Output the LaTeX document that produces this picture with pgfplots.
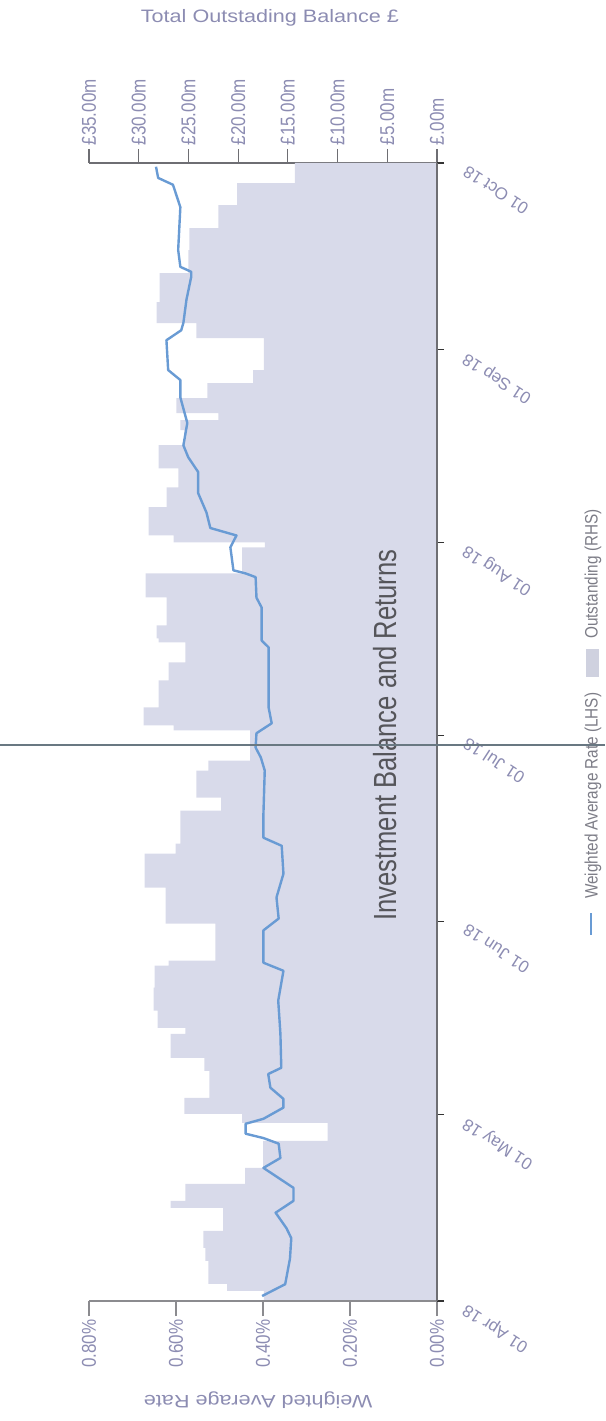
\documentclass[border=0pt]{standalone}
\usepackage{fontspec}
\setmainfont{Liberation Sans}
\newfontfamily\vfont[FakeStretch=0.85]{Liberation Sans}
\newfontfamily\hfont[FakeStretch=1.2]{Liberation Sans}
\newfontfamily\tfont[FakeStretch=0.8]{Liberation Sans}
\usepackage{pgfplots}
\usepackage{pgfplotstable}
\pgfplotsset{compat=1.18}
\definecolor{fillc}{RGB}{216,218,234}
\definecolor{linec}{RGB}{105,155,212}
\definecolor{labc}{RGB}{140,140,178}
\definecolor{axc}{RGB}{110,110,115}
\definecolor{scanc}{RGB}{105,120,130}
\definecolor{titc}{RGB}{85,85,90}
\definecolor{legc}{RGB}{125,125,135}

% day = days since 01 Apr 18 (end of each step), bal = outstanding balance in GBP m
\pgfplotstableread{
day bal
0 0
1.61 17.4
2.74 21.1
6.44 23.0
8.53 23.3
11.27 23.5
14.97 21.5
16.10 26.8
18.83 25.3
21.41 19.3
25.75 17.5
28.65 11.0
30.10 19.6
32.67 25.4
37.02 22.9
39.11 23.4
42.97 26.8
43.94 25.3
46.68 28.1
50.38 28.5
53.92 28.4
54.72 27.0
60.68 22.3
66.47 27.3
71.95 29.4
73.55 26.3
78.87 25.8
80.96 21.7
85.30 24.2
86.91 23.0
91.74 18.8
92.55 26.5
95.45 29.5
99.79 28.0
102.69 27.0
105.91 25.3
106.55 28.0
108.64 28.2
113.15 27.2
117.01 29.3
121.20 19.6
122.00 17.3
123.13 26.5
127.64 29.0
130.85 27.2
133.91 26.0
137.62 28.0
140.03 25.4
141.64 25.8
142.77 22.0
145.18 26.2
147.59 23.1
149.69 18.5
154.84 17.4
157.25 24.2
160.63 28.2
165.30 27.9
169.00 25.0
172.54 24.9
176.24 22.0
179.78 20.1
183.00 14.3
183.00 0
}\balance

% weighted average rate in percent
\pgfplotstableread{
day rate
0.8 0.402
2.7 0.349
6.8 0.338
10.1 0.335
11.7 0.346
14.2 0.371
16.1 0.330
18.2 0.330
21.4 0.399
23.0 0.360
25.3 0.364
26.2 0.399
26.9 0.440
28.5 0.440
29.3 0.399
31.1 0.353
32.5 0.353
34.3 0.383
36.5 0.388
37.5 0.358
43.0 0.360
48.3 0.365
53.1 0.353
54.4 0.399
59.6 0.399
61.5 0.364
64.9 0.369
68.7 0.353
73.2 0.357
74.5 0.399
78.4 0.399
85.3 0.396
87.4 0.405
89.0 0.417
91.3 0.415
92.9 0.380
95.4 0.387
105.1 0.387
106.2 0.403
111.5 0.403
113.1 0.415
116.4 0.417
117.0 0.440
117.5 0.468
121.2 0.475
123.1 0.461
124.3 0.521
126.8 0.530
129.9 0.549
133.3 0.549
135.7 0.572
137.6 0.583
141.2 0.574
145.3 0.590
148.1 0.590
149.7 0.618
154.5 0.622
156.1 0.588
157.3 0.583
161.0 0.576
164.7 0.565
165.5 0.565
166.3 0.590
169.0 0.595
175.9 0.590
179.5 0.607
180.6 0.641
182.4 0.646
}\rate

\begin{document}
\begin{tikzpicture}[x=1pt,y=1pt]
\useasboundingbox (0,0) rectangle (605,1421);
\pgfplotsset{base/.style={scale only axis, width=348pt, height=1138pt,
  at={(89pt,120pt)}, anchor=south west, ymin=0, ymax=183, tick align=outside}}

% balance (RHS) -- top axis
\begin{axis}[base, xmin=-35, xmax=0,
  axis x line*=top, axis y line=none,
  xtick={-35,-30,-25,-20,-15,-10,-5,0},
  xticklabels={£35.00m,£30.00m,£25.00m,£20.00m,£15.00m,£10.00m,£5.00m,£.00m},
  major tick length=14pt,
  axis line style={axc, line width=1.2pt},
  xtick style={axc, line width=1.2pt},
  xticklabel style={rotate=90, anchor=west, font=\vfont\fontsize{20}{20}\selectfont, text=labc},
  xlabel={Total Outstading Balance £},
  xlabel style={at={(axis description cs:0.52,1)}, anchor=center, yshift=145pt,
    font=\hfont\fontsize{18}{18}\selectfont, text=labc}]
\addplot[const plot, fill=fillc, draw=none] table[x expr=-\thisrow{bal}, y=day]{\balance};
\end{axis}

% rate (LHS) -- bottom axis
\begin{axis}[base, xmin=-0.8, xmax=0,
  axis x line*=bottom, axis y line=none,
  xtick={-0.8,-0.6,-0.4,-0.2,0},
  xticklabels={0.80\%,0.60\%,0.40\%,0.20\%,0.00\%},
  major tick length=15pt,
  axis line style={axc!80, line width=1.2pt},
  xtick style={axc!80, line width=1.2pt},
  xticklabel style={rotate=90, anchor=east, font=\vfont\fontsize{20}{20}\selectfont, text=labc},
  xlabel={Weighted Average Rate},
  xlabel style={at={(axis description cs:0.486,-0.087)}, anchor=center, rotate=180,
    font=\hfont\fontsize{18}{18}\selectfont, text=labc}]
\addplot[linec, line width=2.4pt, line join=round] table[x expr=-\thisrow{rate}, y=day]{\rate};
\end{axis}

% date axis (right)
\begin{axis}[base, xmin=0, xmax=1,
  axis x line=none, axis y line*=right,
  ytick={0,30,61,91,122,153,183},
  yticklabels={01 Apr 18,01 May 18,01 Jun 18,01 Jul 18,01 Aug 18,01 Sep 18,01 Oct 18},
  major tick length=7pt,
  axis line style={axc, line width=1.2pt},
  ytick style={black!80, line width=1.2pt},
  yticklabel style={xshift=18pt, yshift=-5pt, rotate=147, anchor=east,
    font=\fontsize{17}{17}\selectfont, text=labc},
  title={Investment Balance and Returns},
  title style={at={(axis description cs:0.85,0.492)}, rotate=90, anchor=center,
    font=\tfont\fontsize{32}{32}\selectfont, text=titc}]
\end{axis}

% legend
\node[rotate=90, anchor=west, inner sep=0pt, font=\vfont\fontsize{18}{18}\selectfont, text=legc]
  at (593,486) {{\color{linec}\rule[0.3em]{22pt}{2.6pt}}\hspace{14pt}Weighted Average Rate (LHS)\hspace{16pt}{\color{fillc!90!gray}\rule[-0.05em]{28pt}{13pt}}\hspace{10pt}Outstanding (RHS)};

% scanning crease
\draw[scanc, line width=1.6pt] (0,676) -- (605,676);
\end{tikzpicture}
\end{document}
